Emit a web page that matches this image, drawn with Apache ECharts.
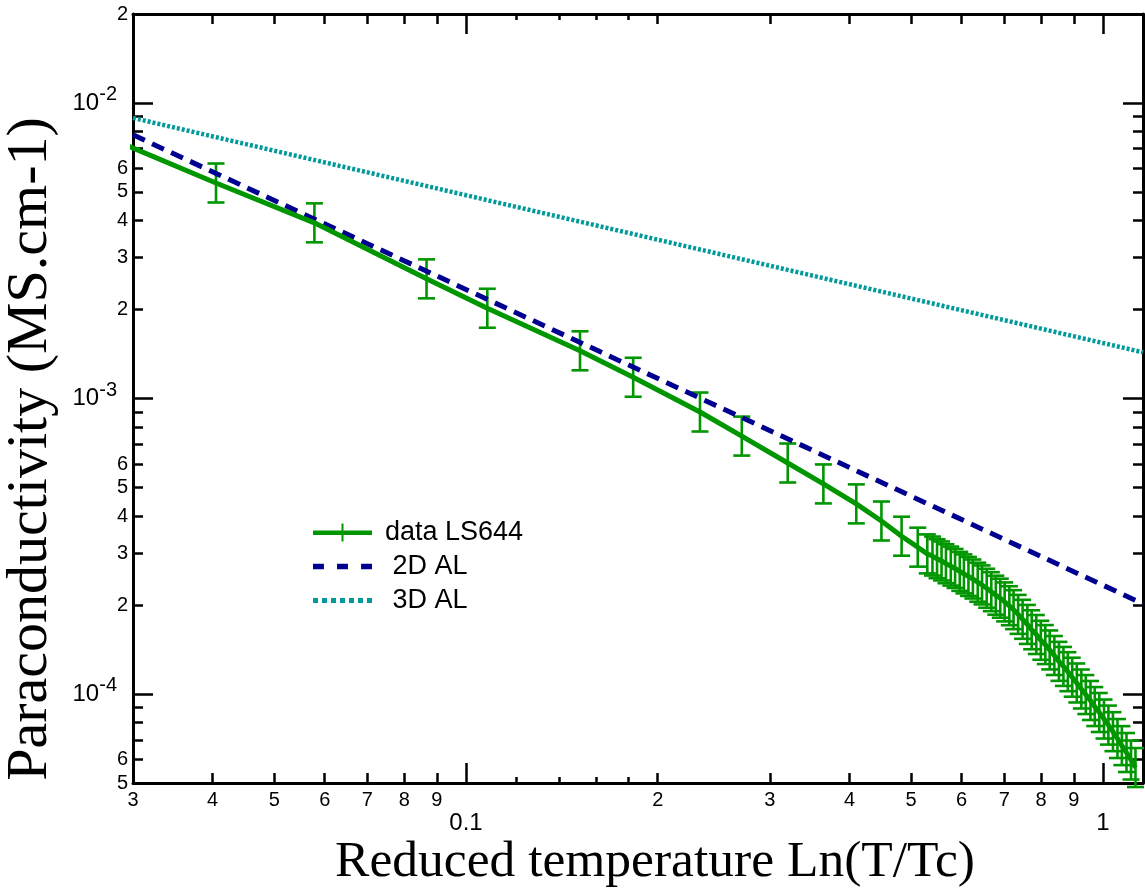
<!DOCTYPE html>
<html><head><meta charset="utf-8">
<script src="https://cdn.jsdelivr.net/npm/echarts@6/dist/echarts.min.js"></script>
<style>html,body{margin:0;padding:0;background:#fff}#c{width:1145px;height:888px}</style>
</head><body><div id="c"></div>
<script>
// ---- data ----
const epsilon = [0.028, 0.0405, 0.0578, 0.0867, 0.108, 0.151, 0.183, 0.233, 0.271, 0.320, 0.364, 0.410, 0.449, 0.483, 0.512, 0.530,
  0.540, 0.549, 0.558, 0.567, 0.577, 0.586, 0.596, 0.605, 0.615, 0.625, 0.636, 0.646, 0.657, 0.668, 0.679, 0.690,
  0.701, 0.713, 0.724, 0.736, 0.748, 0.761, 0.773, 0.786, 0.799, 0.812, 0.825, 0.839, 0.853, 0.867, 0.881, 0.895,
  0.910, 0.925, 0.940, 0.956, 0.971, 0.987, 1.004, 1.020, 1.037, 1.054, 1.071, 1.089, 1.107, 1.125];
const paracond = [7.5e-3, 5.36e-3, 3.93e-3, 2.54e-3, 2.02e-3, 1.45e-3, 1.18e-3, 9.0e-4, 7.46e-4, 6.05e-4, 5.14e-4, 4.40e-4, 3.85e-4, 3.42e-4, 3.14e-4, 2.98e-4,
  2.93e-4, 2.87e-4, 2.82e-4, 2.76e-4, 2.71e-4, 2.66e-4, 2.60e-4, 2.55e-4, 2.50e-4, 2.45e-4, 2.39e-4, 2.34e-4, 2.28e-4, 2.22e-4, 2.16e-4, 2.11e-4,
  2.05e-4, 1.99e-4, 1.93e-4, 1.86e-4, 1.79e-4, 1.72e-4, 1.65e-4, 1.59e-4, 1.52e-4, 1.47e-4, 1.41e-4, 1.35e-4, 1.29e-4, 1.24e-4, 1.19e-4, 1.14e-4,
  1.09e-4, 1.04e-4, 9.96e-5, 9.51e-5, 9.07e-5, 8.66e-5, 8.23e-5, 7.85e-5, 7.46e-5, 7.07e-5, 6.69e-5, 6.34e-5, 5.98e-5, 5.64e-5];
const errFactor = 1.164;
const al2dEps = [0.03, 1.156];
const al2dSigma = [7.8e-3, 2.02e-4];
const al3dEps = [0.03, 1.156];
const al3dSigma = [8.9e-3, 1.433e-3];

const xMinorTicks = [0.03, 0.04, 0.05, 0.06, 0.07, 0.08, 0.09, 0.2, 0.3, 0.4, 0.5, 0.6, 0.7, 0.8, 0.9];
const xSubTicks = [0.12, 0.14, 0.16, 0.18];
const xMajorTicks = [0.1, 1];
const yMinorTicks = [5e-5, 6e-5, 7e-5, 8e-5, 9e-5, 2e-4, 3e-4, 4e-4, 5e-4, 6e-4, 7e-4, 8e-4, 9e-4,
  2e-3, 3e-3, 4e-3, 5e-3, 6e-3, 7e-3, 8e-3, 9e-3, 2e-2];
const yMinorLabels = [5e-5, 6e-5, 2e-4, 3e-4, 4e-4, 5e-4, 6e-4, 2e-3, 3e-3, 4e-3, 5e-3, 6e-3, 2e-2];
const yMajorTicks = [1e-4, 1e-3, 1e-2];

const xMin = 0.03, xMax = 1.156, yMin = 5e-5, yMax = 2e-2;
const GREEN = '#009600', NAVY = '#000090', TEAL = '#009a9a';
const SANS = '"Liberation Sans", Arial, sans-serif';
const SERIF = '"Liberation Serif", "Times New Roman", serif';

function lead(v) { return String(Math.round(v / Math.pow(10, Math.floor(Math.log10(v) + 1e-9)))); }

const rect = {left: 133, top: 14, width: 1010, height: 769, outerBoundsMode: 'none'};
const lineStyleAx = {color: '#000', width: 3};
function xAx(grid, pos, ticks, len, labels, fmt, margin, showLine, fs) {
  return {type: 'log', logBase: 10, gridIndex: grid, position: pos, min: xMin, max: xMax,
    axisLine: {show: showLine, lineStyle: lineStyleAx},
    axisTick: {show: true, inside: true, length: len, customValues: ticks, lineStyle: {color: '#000', width: 2.5}},
    axisLabel: labels ? {show: true, customValues: labels, formatter: fmt, margin: margin, color: '#000', fontSize: fs, fontFamily: SANS} : {show: false},
    splitLine: {show: false}, minorTick: {show: false}};
}
function yAx(grid, pos, ticks, len, labels, fmt, margin, showLine, rich) {
  return {type: 'log', logBase: 10, gridIndex: grid, position: pos, min: yMin, max: yMax,
    axisLine: {show: showLine, lineStyle: lineStyleAx},
    axisTick: {show: true, inside: true, length: len, customValues: ticks, lineStyle: {color: '#000', width: 2.5}},
    axisLabel: labels ? {show: true, customValues: labels, formatter: fmt, margin: margin, color: '#000', fontSize: 20, fontFamily: SANS, rich: rich} : {show: false},
    splitLine: {show: false}, minorTick: {show: false}};
}
const supRich = {
  b: {fontSize: 24, fontFamily: SANS, color: '#000'},
  s: {fontSize: 20, fontFamily: SANS, color: '#000', padding: [0, 0, 17, 0]}
};

const chart = echarts.init(document.getElementById('c'), null, {renderer: 'canvas'});
chart.setOption({
  animation: false,
  backgroundColor: '#fff',
  grid: [Object.assign({}, rect), Object.assign({}, rect), Object.assign({}, rect)],
  xAxis: [
    xAx(0, 'bottom', xMinorTicks, 10, xMinorTicks, lead, 7, true, 20),
    xAx(0, 'top', xMinorTicks, 10, null, null, 0, true),
    xAx(1, 'bottom', xMajorTicks, 20, xMajorTicks, v => (v < 0.5 ? '0.1' : '1'), 28, false, 24),
    xAx(1, 'top', xMajorTicks, 20, null, null, 0, false),
    xAx(2, 'bottom', xSubTicks, 6, null, null, 0, false),
    xAx(2, 'top', xSubTicks, 6, null, null, 0, false)
  ],
  yAxis: [
    yAx(0, 'left', yMinorTicks, 10, yMinorLabels, lead, 5, true),
    yAx(0, 'right', yMinorTicks, 10, null, null, 0, true),
    yAx(1, 'left', yMajorTicks, 20, yMajorTicks, v => '{b|10}{s|' + Math.round(Math.log10(v)) + '}', 16, false, supRich),
    yAx(1, 'right', yMajorTicks, 20, null, null, 0, false),
    Object.assign(yAx(2, 'left', [], 0, null, null, 0, false), {show: false})
  ],
  legend: {
    orient: 'vertical', left: 313, top: 519, padding: 0, itemWidth: 59, itemHeight: 18, itemGap: 7,
    textStyle: {fontSize: 27, fontFamily: SANS, color: '#000', padding: [0, 0, 0, 8]},
    data: [
      {name: 'data LS644', icon: 'path://M0,7L59,7L59,11.5L0,11.5Z M28.5,0L30.5,0L30.5,18L28.5,18Z'},
      {name: ' 2D AL', icon: 'path://M0,0L10,0L10,5L0,5Z M22,0L32,0L32,5L22,5Z M44,0L54,0L54,5L44,5Z'},
      {name: ' 3D AL', icon: 'path://M0,0L5,0L5,5L0,5Z M9,0L14,0L14,5L9,5Z M18,0L23,0L23,5L18,5Z M27,0L32,0L32,5L27,5Z M36,0L41,0L41,5L36,5Z M45,0L50,0L50,5L45,5Z M54,0L59,0L59,5L54,5Z'}
    ]
  },
  series: [
    {name: ' 3D AL', type: 'line', xAxisIndex: 0, yAxisIndex: 0, symbol: 'none', clip: true,
      data: al3dEps.map((e, i) => [e, al3dSigma[i]]), color: TEAL,
      lineStyle: {color: TEAL, width: 4.5, type: [3, 2]}},
    {name: ' 2D AL', type: 'line', xAxisIndex: 0, yAxisIndex: 0, symbol: 'none', clip: true,
      data: al2dEps.map((e, i) => [e, al2dSigma[i]]), color: NAVY,
      lineStyle: {color: NAVY, width: 5, type: [13, 8]}},
    {name: 'data LS644', type: 'line', xAxisIndex: 0, yAxisIndex: 0, symbol: 'none', clip: true,
      data: epsilon.map((e, i) => [e, paracond[i]]), color: GREEN,
      lineStyle: {color: GREEN, width: 5}},
    {type: 'custom', xAxisIndex: 0, yAxisIndex: 0, clip: false,
      data: epsilon.map((e, i) => [e, paracond[i] / errFactor, paracond[i] * errFactor]),
      encode: {x: 0, y: [1, 2]},
      renderItem: function (params, api) {
        const x = api.value(0);
        if (x < xMin || x > xMax) return null;
        const top = api.coord([x, api.value(2)]);
        const bot = api.coord([x, api.value(1)]);
        const hw = 8.5;
        const st = {stroke: GREEN, lineWidth: 2.6, fill: null};
        return {type: 'group', children: [
          {type: 'line', shape: {x1: top[0], y1: top[1], x2: bot[0], y2: bot[1]}, style: st},
          {type: 'line', shape: {x1: top[0] - hw, y1: top[1], x2: top[0] + hw, y2: top[1]}, style: st},
          {type: 'line', shape: {x1: bot[0] - hw, y1: bot[1], x2: bot[0] + hw, y2: bot[1]}, style: st}
        ]};
      }}
  ],
  graphic: [
    {type: 'text', x: 655, y: 862, style: {text: 'Reduced temperature Ln(T/Tc)', fontSize: 51.5, fontFamily: SERIF, fill: '#000', align: 'center', verticalAlign: 'middle'}},
    {type: 'text', x: 31, y: 449, rotation: Math.PI / 2, style: {text: 'Paraconductivity (MS.cm-1)', fontSize: 58, fontFamily: SERIF, fill: '#000', align: 'center', verticalAlign: 'middle'}}
  ]
});
</script>
</body></html>
